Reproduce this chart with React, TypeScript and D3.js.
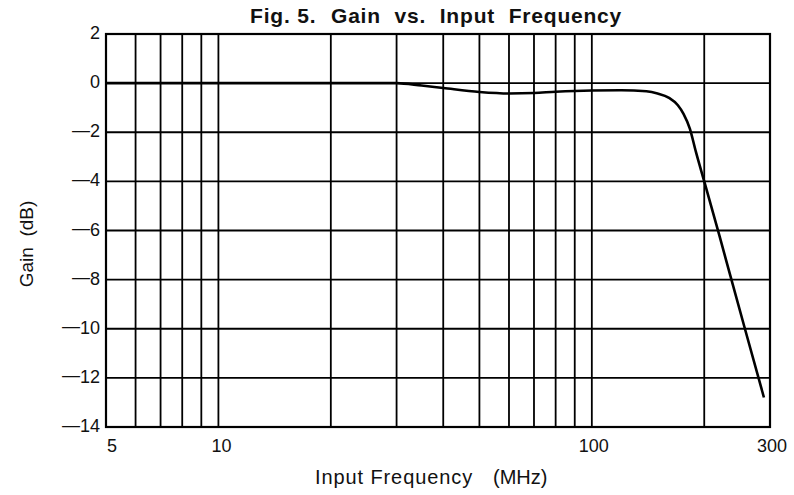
import React from "react";
import * as d3 from "d3";

const freqMHz = [5, 10, 20, 30, 35, 40, 50, 60, 70, 80, 100, 120, 140, 150, 161, 170, 176, 183, 190, 200, 220, 235, 257, 289];
const gainDb = [0, 0, 0, 0, -0.1, -0.2, -0.36, -0.42, -0.4, -0.35, -0.3, -0.29, -0.33, -0.42, -0.6, -0.9, -1.25, -1.85, -2.8, -4.0, -6.25, -7.85, -10.0, -12.8];
const xGrid = [6, 7, 8, 9, 10, 20, 30, 40, 50, 60, 70, 80, 90, 100, 200];
const xTickLabels = [5, 10, 100, 300];
const xTickShift = [6, 3, 2, 2];
const yTicks = [2, 0, -2, -4, -6, -8, -10, -12, -14];
const titleParts = ["Fig. 5.", "Gain vs. Input Frequency"];
const titleX = [250, 331];
const titleWordSpacing = [0, 7];

const W = 794, H = 495;
const L = 106, R = 770, T = 34, B = 427;

export default function App() {
  const x = d3.scaleLog().domain([5, 300]).range([L, R]);
  const y = d3.scaleLinear().domain([-14, 2]).range([B, T]);
  const pts: [number, number][] = freqMHz.map((f, i) => [f, gainDb[i]]);
  const line = d3
    .line<[number, number]>()
    .x((d) => x(d[0]))
    .y((d) => y(d[1]))
    .curve(d3.curveMonotoneX);
  const font = "'Liberation Sans', Arial, Helvetica, sans-serif";
  return (
    <svg width={W} height={H} style={{ position: "absolute", left: 0, top: 0, background: "#fff" }} fontFamily={font}>
      <rect x={0} y={0} width={W} height={H} fill="#fff" />
      {titleParts.map((w, i) => (
        <text
          key={w}
          x={titleX[i]}
          y={23}
          fontSize={21}
          fontWeight="bold"
          fill="#111"
          letterSpacing={0.8}
          wordSpacing={titleWordSpacing[i]}
        >
          {w}
        </text>
      ))}
      {xGrid.map((f) => (
        <line key={"vx" + f} x1={x(f)} x2={x(f)} y1={T} y2={B} stroke="#000" strokeWidth={1.8} />
      ))}
      {yTicks.map((v) => (
        <line key={"hy" + v} x1={L} x2={R} y1={y(v)} y2={y(v)} stroke="#000" strokeWidth={1.8} />
      ))}
      <rect x={L} y={T} width={R - L} height={B - T} fill="none" stroke="#000" strokeWidth={2.2} />
      <path d={line(pts) || ""} fill="none" stroke="#000" strokeWidth={2.6} />
      {yTicks.map((v) => (
        <text key={"ty" + v} x={100} y={y(v) + 5} textAnchor="end" fontSize={18} fill="#111">
          {v < 0 ? (
            <>
              <tspan dy={-1.5}>{"\u2014"}</tspan>
              <tspan dy={1.5}>{String(Math.abs(v))}</tspan>
            </>
          ) : (
            String(v)
          )}
        </text>
      ))}
      {xTickLabels.map((f, i) => (
        <text key={"tx" + f} x={x(f) + xTickShift[i]} y={452} textAnchor="middle" fontSize={18} fill="#111">
          {f}
        </text>
      ))}
      <text y={484} fontSize={20} fill="#111">
        <tspan x={315} letterSpacing={0.9}>Input Frequency</tspan>
        <tspan x={493}>(MHz)</tspan>
      </text>
      <text
        transform={`translate(33,244) rotate(-90)`}
        textAnchor="middle"
        fontSize={19}
        fill="#111"
      >
        Gain{"\u00a0\u00a0"}(dB)
      </text>
    </svg>
  );
}
